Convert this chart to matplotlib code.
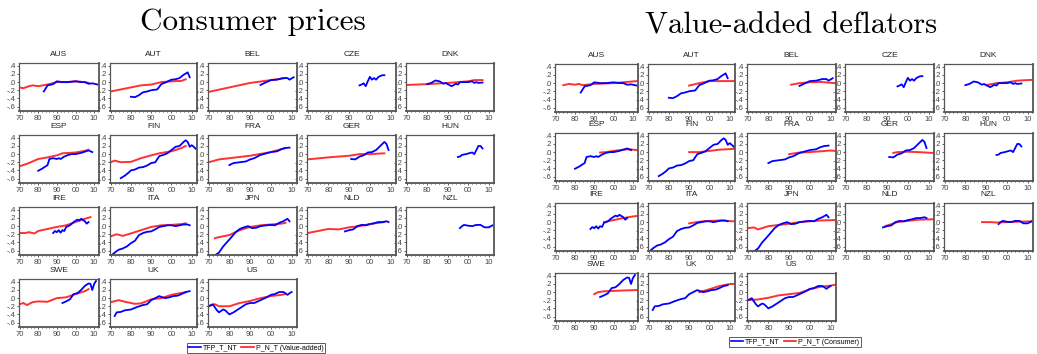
import matplotlib
matplotlib.use('Agg')
import matplotlib.pyplot as plt
from matplotlib.ticker import FixedLocator, MultipleLocator, FuncFormatter
from matplotlib.lines import Line2D

countries = ['AUS', 'AUT', 'BEL', 'CZE', 'DNK',
             'ESP', 'FIN', 'FRA', 'GER', 'HUN',
             'IRE', 'ITA', 'JPN', 'NLD', 'NZL',
             'SWE', 'UK', 'US']

# TFP_T_NT (same in both blocks): (years, values)
tfp = {
    'AUS': ([1983, 1985, 1988, 1990, 1993, 1996, 2000, 2003, 2005, 2007, 2009, 2012],
            [-0.23, -0.08, -0.05, 0.02, 0.0, 0.0, 0.02, 0.0, 0.0, -0.04, -0.03, -0.06]),
    'AUT': ([1980, 1982, 1984, 1986, 1988, 1990, 1993, 1995, 1997, 2000, 2002, 2004, 2006, 2008, 2009],
            [-0.36, -0.37, -0.32, -0.25, -0.23, -0.2, -0.18, -0.05, -0.01, 0.06, 0.07, 0.1, 0.18, 0.24, 0.12]),
    'BEL': ([1995, 1997, 2000, 2003, 2006, 2008, 2009, 2011],
            [-0.07, -0.02, 0.05, 0.06, 0.1, 0.1, 0.06, 0.12]),
    'CZE': ([1995, 1996, 1997, 1998, 1999, 2000, 2001, 2002, 2003, 2004, 2005, 2006, 2007],
            [-0.08, -0.06, -0.03, -0.1, 0.02, 0.13, 0.06, 0.1, 0.06, 0.12, 0.15, 0.17, 0.17]),
    'DNK': ([1980, 1982, 1984, 1986, 1988, 1989, 1990, 1992, 1994, 1995, 1996, 1998, 2000, 2002, 2003, 2004, 2005, 2007],
            [-0.05, -0.02, 0.04, 0.02, -0.04, -0.02, -0.05, -0.1, -0.04, -0.06, 0.0, 0.0, 0.0, 0.02, -0.02, 0.0, -0.02, -0.01]),
    'ESP': ([1980, 1982, 1984, 1985, 1986, 1988, 1990, 1991, 1992, 1994, 1996, 1998, 2000, 2003, 2005, 2007, 2009],
            [-0.41, -0.36, -0.3, -0.27, -0.12, -0.1, -0.12, -0.1, -0.12, -0.06, -0.02, 0.0, 0.0, 0.03, 0.06, 0.09, 0.05]),
    'FIN': ([1975, 1977, 1979, 1980, 1982, 1984, 1986, 1988, 1990, 1992, 1994, 1996, 1998, 2000, 2002, 2004, 2006, 2007, 2008, 2009, 2010, 2011, 2012],
            [-0.59, -0.53, -0.45, -0.4, -0.38, -0.33, -0.32, -0.28, -0.22, -0.2, -0.05, -0.02, 0.02, 0.1, 0.18, 0.2, 0.3, 0.34, 0.3, 0.18, 0.22, 0.18, 0.13]),
    'FRA': ([1980, 1982, 1985, 1988, 1990, 1992, 1995, 2000, 2003, 2005, 2007, 2009],
            [-0.27, -0.22, -0.2, -0.18, -0.13, -0.1, -0.02, 0.05, 0.07, 0.12, 0.15, 0.16]),
    'GER': ([1991, 1993, 1995, 1997, 1999, 2001, 2003, 2005, 2007, 2008, 2009],
            [-0.12, -0.13, -0.06, -0.03, 0.04, 0.05, 0.1, 0.2, 0.3, 0.25, 0.1]),
    'HUN': ([1995, 1996, 1997, 1999, 2001, 2002, 2003, 2004, 2005, 2006, 2007],
            [-0.07, -0.06, -0.02, 0.0, 0.03, 0.04, 0.0, 0.1, 0.2, 0.2, 0.14]),
    'IRE': ([1988, 1989, 1990, 1991, 1992, 1993, 1994, 1995, 1997, 1999, 2001, 2002, 2003, 2005, 2006, 2007],
            [-0.17, -0.12, -0.15, -0.1, -0.16, -0.1, -0.12, -0.02, 0.02, 0.1, 0.16, 0.14, 0.18, 0.12, 0.06, 0.1]),
    'ITA': ([1970, 1972, 1974, 1976, 1978, 1980, 1982, 1984, 1986, 1988, 1990, 1992, 1994, 1996, 1998, 2000, 2002, 2004, 2006, 2008, 2009],
            [-0.74, -0.65, -0.58, -0.55, -0.5, -0.42, -0.36, -0.22, -0.17, -0.14, -0.13, -0.08, -0.02, 0.0, 0.02, 0.02, 0.0, 0.02, 0.04, 0.04, 0.02]),
    'JPN': ([1973, 1975, 1977, 1980, 1983, 1985, 1987, 1989, 1991, 1993, 1995, 1998, 2000, 2002, 2004, 2006, 2008, 2009],
            [-0.72, -0.65, -0.5, -0.33, -0.15, -0.07, -0.03, 0.0, -0.05, -0.04, 0.0, 0.02, 0.03, 0.02, 0.08, 0.12, 0.18, 0.12]),
    'NLD': ([1988, 1990, 1992, 1994, 1996, 1998, 2000, 2002, 2004, 2006, 2008, 2009],
            [-0.13, -0.1, -0.08, 0.0, 0.03, 0.02, 0.05, 0.07, 0.1, 0.1, 0.12, 0.1]),
    'NZL': ([1996, 1997, 1998, 2000, 2002, 2004, 2006, 2008, 2010, 2012],
            [-0.05, 0.0, 0.03, 0.01, 0.0, 0.03, 0.03, -0.03, -0.03, 0.02]),
    'SWE': ([1993, 1995, 1997, 1999, 2001, 2003, 2005, 2007, 2008, 2009, 2010, 2011],
            [-0.12, -0.08, -0.03, 0.1, 0.12, 0.2, 0.3, 0.36, 0.35, 0.2, 0.35, 0.42]),
    'UK': ([1972, 1973, 1975, 1977, 1980, 1983, 1986, 1988, 1990, 1992, 1994, 1995, 1997, 1999, 2001, 2003, 2005, 2007, 2009],
           [-0.44, -0.35, -0.34, -0.3, -0.28, -0.22, -0.17, -0.15, -0.05, 0.0, 0.05, 0.03, 0.0, 0.02, 0.05, 0.06, 0.1, 0.15, 0.17]),
    'US': ([1970, 1972, 1974, 1975, 1977, 1978, 1980, 1982, 1985, 1988, 1990, 1992, 1995, 1998, 2000, 2002, 2004, 2006, 2007, 2008, 2009, 2010],
           [-0.2, -0.15, -0.3, -0.35, -0.28, -0.3, -0.4, -0.35, -0.25, -0.15, -0.12, -0.12, -0.05, 0.02, 0.08, 0.1, 0.15, 0.15, 0.12, 0.08, 0.12, 0.15]),
}

# P_N_T (Value-added), drawn in the "Consumer prices" block
pnt_va = {
    'AUS': ([1970, 1972, 1975, 1977, 1980, 1985, 1990, 1995, 2000, 2005, 2007],
            [-0.13, -0.15, -0.1, -0.08, -0.1, -0.06, 0.0, 0.0, 0.02, 0.0, -0.02]),
    'AUT': ([1970, 1975, 1980, 1985, 1990, 1995, 2000, 2005, 2007],
            [-0.23, -0.18, -0.13, -0.08, -0.06, 0.0, 0.02, 0.03, 0.07]),
    'BEL': ([1970, 1980, 1990, 2000, 2007],
            [-0.24, -0.13, -0.02, 0.05, 0.1]),
    'DNK': ([1970, 1980, 1990, 2000, 2003, 2007],
            [-0.07, -0.05, -0.02, 0.02, 0.05, 0.05]),
    'ESP': ([1970, 1975, 1980, 1985, 1990, 1993, 2000, 2005, 2007],
            [-0.3, -0.22, -0.12, -0.08, -0.03, 0.02, 0.04, 0.08, 0.11]),
    'FIN': ([1970, 1972, 1975, 1980, 1985, 1990, 1994, 2000, 2005, 2007],
            [-0.2, -0.16, -0.2, -0.19, -0.1, -0.03, 0.02, 0.07, 0.15, 0.2]),
    'FRA': ([1970, 1975, 1980, 1990, 2000, 2007],
            [-0.2, -0.13, -0.1, -0.04, 0.05, 0.15]),
    'GER': ([1970, 1980, 1990, 1995, 2000, 2007],
            [-0.13, -0.08, -0.04, 0.0, 0.0, 0.02]),
    'IRE': ([1970, 1973, 1975, 1978, 1980, 1985, 1990, 1995, 2000, 2005, 2008],
            [-0.17, -0.17, -0.15, -0.18, -0.12, -0.07, -0.02, 0.02, 0.1, 0.18, 0.22]),
    'ITA': ([1970, 1973, 1976, 1980, 1985, 1990, 1995, 2000, 2005, 2007],
            [-0.25, -0.2, -0.24, -0.18, -0.1, -0.02, 0.02, 0.03, 0.05, 0.07]),
    'JPN': ([1973, 1975, 1980, 1985, 1990, 1995, 2000, 2005, 2007],
            [-0.3, -0.27, -0.22, -0.1, -0.02, 0.02, 0.04, 0.06, 0.08]),
    'NLD': ([1970, 1975, 1980, 1985, 1990, 1995, 2000, 2007],
            [-0.17, -0.12, -0.07, -0.08, -0.03, 0.0, 0.05, 0.1]),
    'SWE': ([1970, 1972, 1974, 1977, 1980, 1985, 1990, 1995, 2000, 2005, 2007],
            [-0.15, -0.12, -0.17, -0.1, -0.08, -0.09, 0.0, 0.02, 0.1, 0.17, 0.22]),
    'UK': ([1970, 1974, 1978, 1982, 1985, 1990, 1995, 2000, 2005, 2007],
           [-0.1, -0.05, -0.1, -0.14, -0.13, -0.03, 0.0, 0.08, 0.13, 0.14]),
    'US': ([1970, 1973, 1975, 1980, 1985, 1990, 1995, 2000, 2005, 2007],
           [-0.2, -0.15, -0.2, -0.2, -0.12, -0.07, 0.0, 0.05, 0.08, 0.1]),
}

# P_N_T (Consumer), drawn in the "Value-added deflators" block
pnt_cons = {
    'AUS': ([1974, 1977, 1980, 1982, 1984, 1990, 2000, 2012],
            [-0.05, -0.02, -0.04, -0.02, -0.05, -0.02, 0.0, 0.05]),
    'AUT': ([1990, 1995, 2000, 2005, 2012],
            [-0.06, 0.0, 0.05, 0.05, 0.05]),
    'BEL': ([1991, 1995, 2000, 2005, 2012],
            [-0.04, 0.0, 0.02, 0.03, 0.0]),
    'DNK': ([1990, 1995, 2000, 2005, 2012],
            [-0.05, 0.0, 0.02, 0.06, 0.08]),
    'ESP': ([1993, 1996, 2000, 2005, 2008, 2012],
            [-0.01, 0.0, 0.03, 0.06, 0.07, 0.05]),
    'FIN': ([1990, 1995, 2000, 2005, 2012],
            [0.0, 0.0, 0.03, 0.06, 0.08]),
    'FRA': ([1990, 1995, 2000, 2005, 2010, 2012],
            [-0.05, -0.01, 0.0, 0.02, 0.04, 0.03]),
    'GER': ([1993, 1995, 2000, 2005, 2012],
            [-0.02, 0.0, 0.01, 0.0, -0.02]),
    'IRE': ([1995, 2000, 2005, 2010, 2012],
            [0.0, 0.05, 0.1, 0.14, 0.15]),
    'ITA': ([1990, 1995, 2000, 2005, 2012],
            [-0.03, 0.01, 0.03, 0.04, 0.02]),
    'JPN': ([1970, 1973, 1975, 1980, 1985, 1990, 1995, 2000, 2005, 2012],
            [-0.15, -0.13, -0.18, -0.1, -0.07, -0.04, 0.0, 0.02, 0.04, 0.05]),
    'NLD': ([1989, 1992, 1995, 2000, 2005, 2012],
            [-0.1, -0.05, 0.0, 0.03, 0.06, 0.07]),
    'NZL': ([1988, 1992, 1995, 2000, 2005, 2012],
            [0.0, 0.0, -0.01, 0.0, 0.01, 0.02]),
    'SWE': ([1990, 1992, 1995, 2000, 2005, 2012],
            [-0.05, 0.0, 0.02, 0.03, 0.04, 0.05]),
    'UK': ([1995, 2000, 2005, 2010, 2012],
           [0.0, 0.07, 0.15, 0.2, 0.2]),
    'US': ([1970, 1975, 1980, 1985, 1990, 1995, 2000, 2005, 2010, 2012],
           [-0.2, -0.18, -0.14, -0.08, -0.05, -0.02, 0.07, 0.13, 0.16, 0.18]),
}

W, H = 1037, 354
BLUE = '#0000ff'
RED = '#ff1a1a'

fig = plt.figure(figsize=(W / 100, H / 100), dpi=100)
plt.rcParams['font.family'] = ['Liberation Sans', 'DejaVu Sans']


def yfmt(v, pos):
    return ('%.1f' % v).replace('0.', '.')


def xfmt(v, pos):
    return '%02d' % (int(round(v)) % 100)


def block(col_left, col_w, row_top, red, red_label, title, title_x, title_y, title_fs, leg_xy):
    for i, c in enumerate(countries):
        r, k = divmod(i, 5)
        x0 = col_left[k]
        w = col_w[k]
        top = row_top[r]
        ax = fig.add_axes([x0 / W, 1 - (top + 48) / H, w / W, 48 / H])
        if c in red:
            ax.plot(red[c][0], red[c][1], color=RED, lw=1.4, alpha=0.9)
        ax.plot(tfp[c][0], tfp[c][1], color=BLUE, lw=1.3)
        ax.set_xlim(1969.7, 2012.6)
        ax.set_ylim(-0.71, 0.47)
        ax.yaxis.set_major_locator(FixedLocator([-0.6, -0.4, -0.2, 0.0, 0.2, 0.4]))
        ax.yaxis.set_major_formatter(FuncFormatter(yfmt))
        ax.xaxis.set_major_locator(FixedLocator([1970, 1980, 1990, 2000, 2010]))
        ax.xaxis.set_minor_locator(MultipleLocator(2))
        ax.xaxis.set_major_formatter(FuncFormatter(xfmt))
        ax.tick_params(labelsize=5.5, length=1.5, width=0.6, direction='out', pad=1.2,
                       colors='#444444')
        ax.tick_params(which='minor', length=1, width=0.5, direction='out')
        for s in ax.spines.values():
            s.set_color('#555555')
            s.set_linewidth(0.9)
        ax.spines['right'].set_linewidth(1.3)
        ax.spines['bottom'].set_linewidth(1.3)
        ax.set_title(c, fontsize=6, pad=5, color='#222222')
    fig.text(title_x / W, 1 - title_y / H, title, family='cmr10', fontsize=title_fs,
             ha='center', va='center')
    handles = [Line2D([], [], color=BLUE, lw=1.2), Line2D([], [], color=RED, lw=1.2)]
    leg = fig.legend(handles, ['TFP_T_NT', red_label], loc='center',
                     bbox_to_anchor=(leg_xy[0] / W, 1 - leg_xy[1] / H), ncol=2,
                     fontsize=5, frameon=True, fancybox=False, handlelength=1.8,
                     handletextpad=0.3, columnspacing=0.5, borderpad=0.25,
                     borderaxespad=0)
    leg.get_frame().set_edgecolor('#333333')
    leg.get_frame().set_linewidth(0.7)


block([19, 110, 208, 307, 406], [80, 87, 89, 89, 88], [63, 135, 207, 279],
      pnt_va, 'P_N_T (Value-added)', 'Consumer prices', 253, 22, 22.5, (256, 348))
block([555, 648, 747, 845, 944], [83, 87, 89, 89, 89], [64, 133, 203, 273],
      pnt_cons, 'P_N_T (Consumer)', 'Value-added deflators', 791, 26, 22, (795, 342))

fig.savefig('out.png', dpi=100)
